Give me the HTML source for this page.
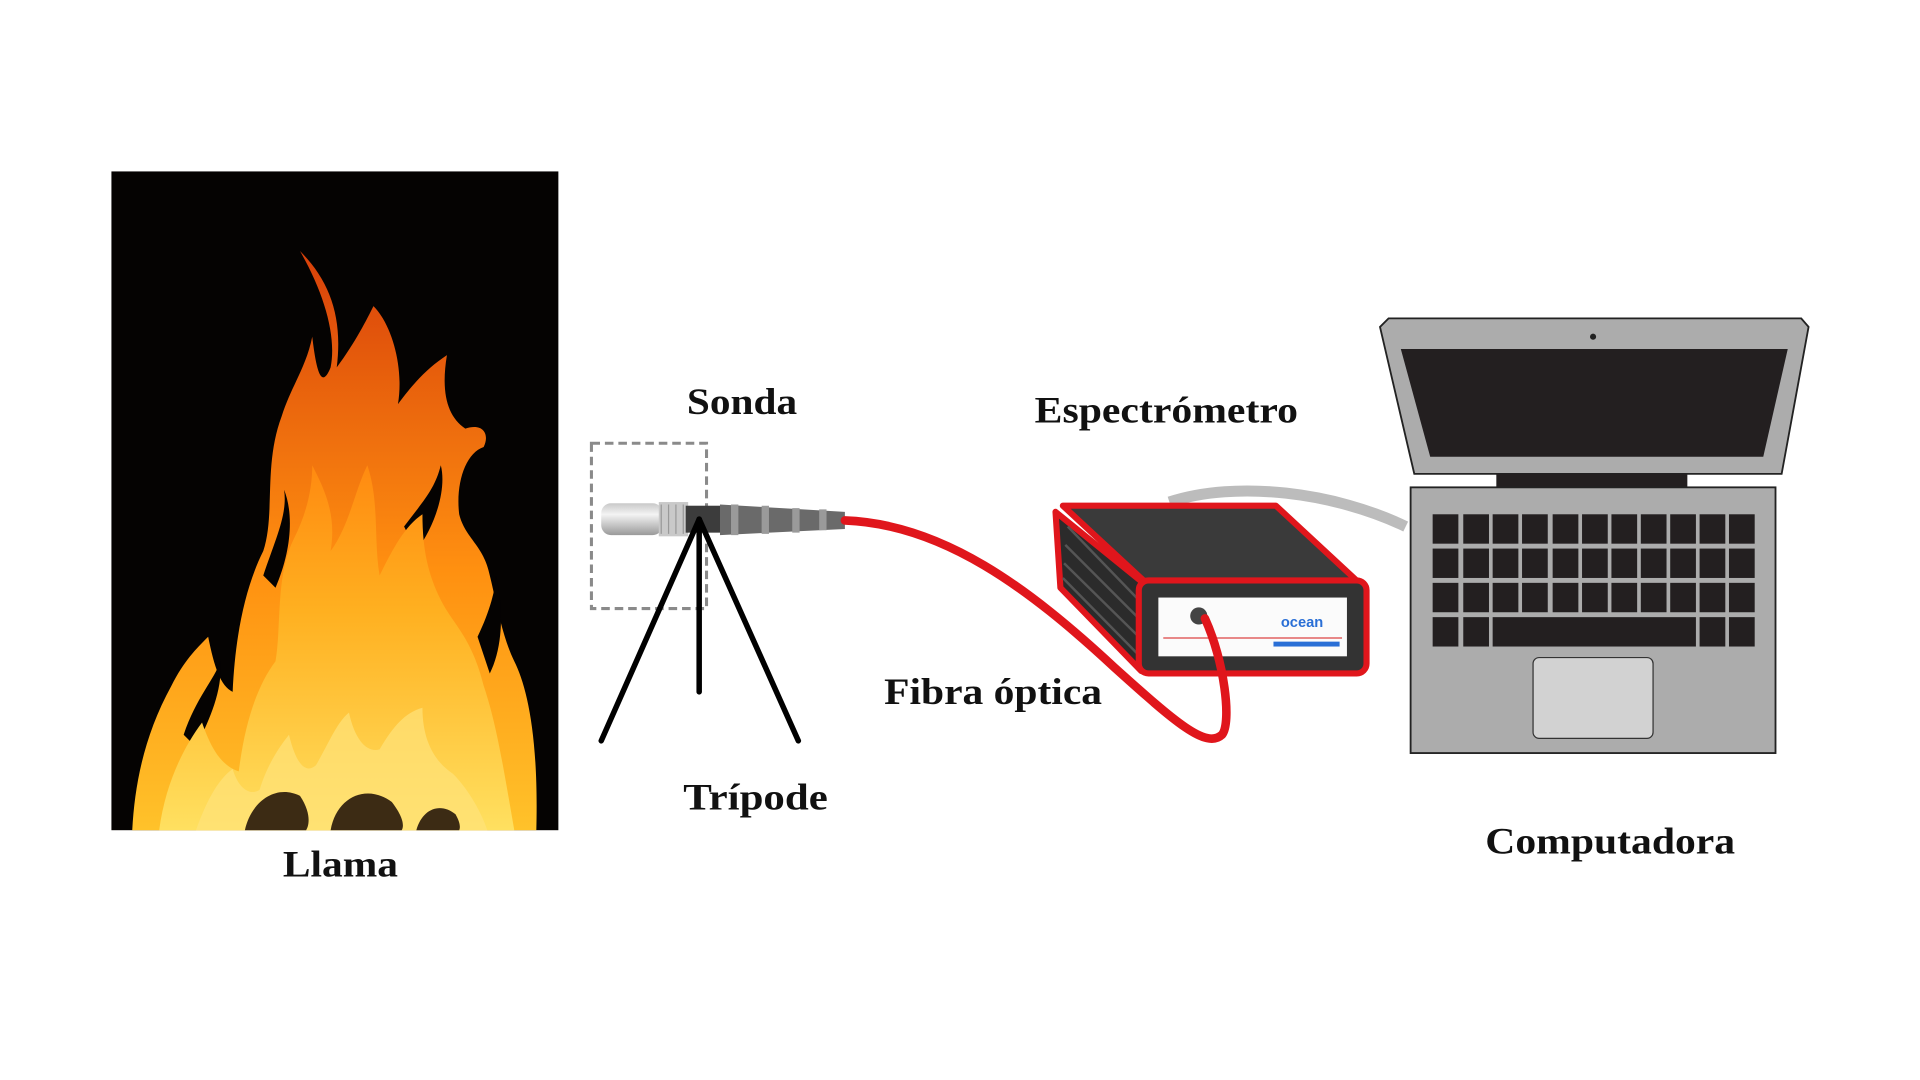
<!DOCTYPE html>
<html><head><meta charset="utf-8"><style>
html,body{margin:0;padding:0;background:#fff;}
svg{display:block}
text{font-family:"Liberation Serif",serif;font-weight:bold;fill:#111;}
</style></head><body>
<svg width="1920" height="1080" viewBox="0 0 1568 882" xmlns="http://www.w3.org/2000/svg">
<defs>
<linearGradient id="fl" x1="0" y1="1" x2="0" y2="0">
<stop offset="0" stop-color="#ffc22a"/><stop offset="0.45" stop-color="#ff9010"/><stop offset="1" stop-color="#d8400a"/>
</linearGradient>
<linearGradient id="fl2" x1="0" y1="1" x2="0" y2="0">
<stop offset="0" stop-color="#ffe060"/><stop offset="0.6" stop-color="#ffb020"/><stop offset="1" stop-color="#ff8a10"/>
</linearGradient>
<linearGradient id="probe" x1="0" y1="0" x2="0" y2="1">
<stop offset="0" stop-color="#c8c8c8"/><stop offset="0.35" stop-color="#f4f4f4"/><stop offset="1" stop-color="#9a9a9a"/>
</linearGradient>
</defs>
<rect width="1568" height="882" fill="#fff"/>
<!-- Flame picture -->
<rect x="91" y="140" width="365" height="538" fill="#050302"/>
<path fill="url(#fl)" d="M108,678 C110,640 118,600 140,560 C150,540 160,530 170,520 C175,545 180,560 190,565 C192,520 200,480 215,450 C225,420 215,380 230,340 C238,315 250,300 255,275 C258,300 262,320 270,300 C275,275 265,240 245,205 C270,230 280,260 275,300 C290,280 300,260 305,250 C320,265 330,300 325,330 C340,310 350,300 365,290 C360,320 365,340 380,350 C395,345 400,355 395,365 C380,370 372,395 375,420 C380,440 395,445 400,470 C405,490 410,520 420,540 C430,560 440,600 438,678 Z"/>
<path fill="#050302" d="M215,470 C225,440 235,420 232,400 C240,420 238,450 225,480 Z M330,430 C345,410 355,400 360,380 C365,400 355,430 340,450 Z M150,600 C160,570 175,555 180,540 C182,565 170,590 160,610 Z M390,520 C400,500 405,480 405,470 C412,500 410,530 400,550 Z"/>
<path fill="url(#fl2)" d="M130,678 C135,640 150,610 165,590 C172,610 180,625 195,630 C200,590 210,560 225,540 C230,510 225,470 240,440 C250,420 255,400 255,380 C265,400 275,420 270,450 C285,430 290,400 300,380 C310,410 305,440 310,470 C320,450 330,430 345,420 C345,450 350,470 360,490 C370,510 385,520 395,560 C405,590 410,620 420,678 Z"/>
<path fill="#ffe27a" opacity="0.7" d="M160,678 C170,650 180,635 190,628 C195,645 205,650 212,645 C218,625 228,610 236,600 C242,625 250,632 258,625 C268,608 275,590 285,582 C290,605 300,615 310,612 C320,595 330,582 345,578 C345,605 355,622 370,632 C380,642 392,660 398,678 Z"/>
<path fill="#1a0a03" opacity="0.85" d="M200,678 C205,655 225,640 245,650 C255,665 252,675 250,678 Z M270,678 C275,650 300,640 320,655 C330,668 330,675 328,678 Z M340,678 C345,660 360,655 372,665 C376,672 376,676 375,678 Z"/>
<!-- Dashed box -->
<rect x="483" y="362" width="94" height="135" fill="none" stroke="#8a8a8a" stroke-width="2.5" stroke-dasharray="7,4"/>
<!-- Probe -->
<rect x="491" y="411" width="50" height="26" rx="8" fill="url(#probe)"/>
<rect x="538" y="410" width="24" height="28" fill="#c9c9c9"/>
<path d="M540,412 v24 M546,412 v24 M552,412 v24 M558,412 v24" stroke="#999" stroke-width="1"/>
<rect x="560" y="413" width="30" height="22" fill="#3c3c3c"/>
<path d="M588,412 L690,418 L690,432 L588,437 Z" fill="#6a6a6a"/>
<path d="M600,412 v25 M625,413 v23 M650,415 v20 M672,416 v17" stroke="#9a9a9a" stroke-width="6"/>
<!-- Tripod -->
<g stroke="#000" stroke-width="4.5" stroke-linecap="round" fill="none">
<path d="M571,424 L491,605"/><path d="M571,424 L652,605"/><path d="M571,424 L571,565"/>
</g>
<!-- Gray cable -->
<path d="M955,410 C1010,392 1090,402 1148,430" stroke="#bcbcbc" stroke-width="9" fill="none"/>
<!-- Spectrometer -->
<path d="M868,413 L1042,413 L1110,476 L936,476 Z" fill="#3a3a3a" stroke="#e0161c" stroke-width="5" stroke-linejoin="round"/>
<path d="M862,418 L936,478 L932,548 L866,480 Z" fill="#2b2b2b" stroke="#e0161c" stroke-width="5" stroke-linejoin="round"/>
<path d="M872,430 L930,490 M870,445 L930,505 M869,460 L930,520 M868,472 L930,535" stroke="#555" stroke-width="2"/>
<rect x="930" y="474" width="186" height="76" rx="8" fill="#333" stroke="#e0161c" stroke-width="5"/>
<rect x="946" y="488" width="154" height="48" fill="#fbfbfb"/>
<line x1="950" y1="521" x2="1096" y2="521" stroke="#d44" stroke-width="1"/>
<text x="1046" y="512" style="font-family:'Liberation Sans',sans-serif;font-size:12px;fill:#2a6fd6">ocean</text>
<rect x="1040" y="524" width="54" height="4" fill="#2a6fd6"/>
<circle cx="979" cy="503" r="7" fill="#444"/>
<!-- Red fiber -->
<path d="M690,425 C770,428 840,480 910,545 C960,590 985,612 998,600 C1006,590 1000,540 984,505" stroke="#e0161c" stroke-width="7" fill="none" stroke-linecap="round"/>
<!-- Laptop -->
<path d="M1134,260 L1471,260 L1477,267 L1455,387 L1155,387 L1127,267 Z" fill="#acacac" stroke="#222" stroke-width="1.5"/>
<path d="M1144,285 L1460,285 L1440,373 L1168,373 Z" fill="#231f20"/>
<circle cx="1301" cy="275" r="2.5" fill="#222"/>
<rect x="1222" y="387" width="156" height="11" fill="#231f20"/>
<rect x="1152" y="398" width="298" height="217" fill="#acacac" stroke="#222" stroke-width="1.5"/>
<g fill="#231f20">
<g id="row">
<rect x="1170" y="420" width="21" height="24"/><rect x="1195" y="420" width="21" height="24"/><rect x="1219" y="420" width="21" height="24"/><rect x="1243" y="420" width="21" height="24"/><rect x="1268" y="420" width="21" height="24"/><rect x="1292" y="420" width="21" height="24"/><rect x="1316" y="420" width="21" height="24"/><rect x="1340" y="420" width="21" height="24"/><rect x="1364" y="420" width="21" height="24"/><rect x="1388" y="420" width="21" height="24"/><rect x="1412" y="420" width="21" height="24"/>
</g>
<use href="#row" y="28"/><use href="#row" y="56"/>
<rect x="1170" y="504" width="21" height="24"/><rect x="1195" y="504" width="21" height="24"/>
<rect x="1219" y="504" width="166" height="24"/>
<rect x="1388" y="504" width="21" height="24"/><rect x="1412" y="504" width="21" height="24"/>
</g>
<rect x="1252" y="537" width="98" height="66" rx="5" fill="#d2d2d2" stroke="#333" stroke-width="1"/>
<!-- Labels -->
<text x="561" y="338" font-size="30" textLength="90" lengthAdjust="spacingAndGlyphs">Sonda</text>
<text x="845" y="345" font-size="30" textLength="215" lengthAdjust="spacingAndGlyphs">Espectrómetro</text>
<text x="722" y="575" font-size="30" textLength="178" lengthAdjust="spacingAndGlyphs">Fibra óptica</text>
<text x="558" y="661" font-size="30" textLength="118" lengthAdjust="spacingAndGlyphs">Trípode</text>
<text x="231" y="716" font-size="30" textLength="94" lengthAdjust="spacingAndGlyphs">Llama</text>
<text x="1213" y="697" font-size="30" textLength="204" lengthAdjust="spacingAndGlyphs">Computadora</text>
</svg>
</body></html>
